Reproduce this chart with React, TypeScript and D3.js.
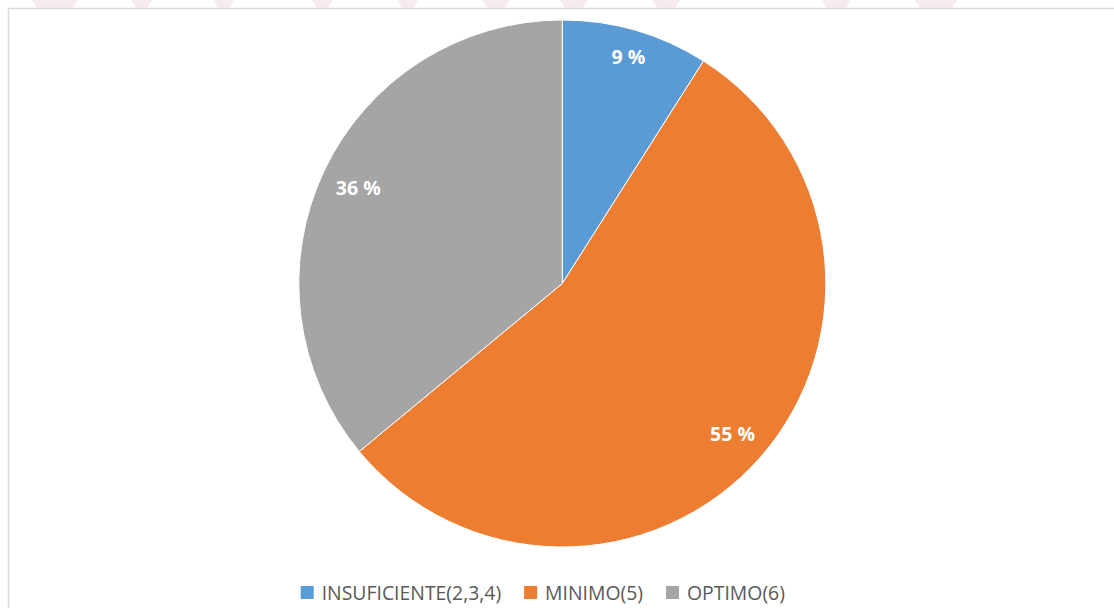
import * as d3 from 'd3';
import { useEffect, useRef } from 'react';

const categories = ['INSUFICIENTE(2,3,4)', 'MINIMO(5)', 'OPTIMO(6)'];
const values = [9, 55, 36];
const labels = ['9 %', '55 %', '36 %'];
const colors = ['#5b9bd5', '#ed7d31', '#a5a5a5'];

// faint watermark bits peeking above the chart frame
const watermarkX = [32, 131, 213, 312, 397, 482, 560, 652, 822, 915];
const watermarkW = [46, 21, 21, 21, 21, 28, 28, 28, 29, 42];

export default function App() {
    const svgRef = useRef<SVGSVGElement>(null);

    useEffect(() => {
        if (!svgRef.current) return;

        const width = 1114;
        const height = 608;
        const cx = 562.3;
        const cy = 283.5;
        const r = 263.5;

        const svg = d3.select(svgRef.current).attr('width', width).attr('height', height);
        svg.selectAll('*').remove();

        svg.append('rect').attr('width', width).attr('height', height).attr('fill', '#fff');

        svg.append('g')
            .selectAll('path')
            .data(watermarkX)
            .join('path')
            .attr('d', (x, i) => `M${x},0 L${x + watermarkW[i]},0 L${x + watermarkW[i] - 5},8 L${x + 5},8 Z`)
            .attr('fill', '#f8eaf1');

        // chart frame
        svg.append('rect')
            .attr('x', 8.5)
            .attr('y', 8.5)
            .attr('width', 1120)
            .attr('height', 620)
            .attr('fill', '#fff')
            .attr('stroke', '#d9d9d9')
            .attr('stroke-width', 1.5);

        const pie = d3
            .pie<number>()
            .sort(null)
            .value((d) => d);
        const arcs = pie(values);
        const arc = d3.arc<d3.PieArcDatum<number>>().innerRadius(0).outerRadius(r);

        const g = svg.append('g').attr('transform', `translate(${cx},${cy})`);

        g.selectAll('path')
            .data(arcs)
            .join('path')
            .attr('d', arc)
            .attr('fill', (_, i) => colors[i])
            .attr('stroke', '#fff')
            .attr('stroke-width', 1);

        // data labels: inside end, farthest corner of the text box ~14px inside the rim
        g.selectAll('text')
            .data(arcs)
            .join('text')
            .text((_, i) => labels[i])
            .attr('font-family', 'Open Sans, sans-serif')
            .attr('font-weight', 700)
            .attr('font-size', 19.5)
            .attr('fill', '#fff')
            .attr('text-anchor', 'middle')
            .attr('dominant-baseline', 'central')
            .each(function (d) {
                const a = (d.startAngle + d.endAngle) / 2;
                const ux = Math.sin(a);
                const uy = -Math.cos(a);
                const w = (this as SVGTextElement).getComputedTextLength();
                const h = 15;
                const c = { x: (Math.sign(ux) * w) / 2, y: (Math.sign(uy) * h) / 2 };
                const R = r - 14.5;
                const uc = ux * c.x + uy * c.y;
                const dist = -uc + Math.sqrt(uc * uc - (c.x * c.x + c.y * c.y) + R * R);
                d3.select(this)
                    .attr('x', ux * dist)
                    .attr('y', uy * dist);
            });

        // legend
        const legend = svg.append('g').attr('transform', 'translate(300.7,586)');
        let x = 0;
        categories.forEach((c, i) => {
            legend.append('rect').attr('x', x).attr('y', 0).attr('width', 13).attr('height', 13).attr('fill', colors[i]);
            const t = legend
                .append('text')
                .attr('x', x + 21)
                .attr('y', 13.5)
                .attr('font-family', 'Open Sans, sans-serif')
                .attr('font-size', 19.4)
                .attr('fill', '#595959')
                .text(c);
            x += 21 + (t.node() as SVGTextElement).getComputedTextLength() + 23;
        });
    }, []);

    return <svg ref={svgRef} style={{ position: 'absolute', left: 0, top: 0 }} />;
}
